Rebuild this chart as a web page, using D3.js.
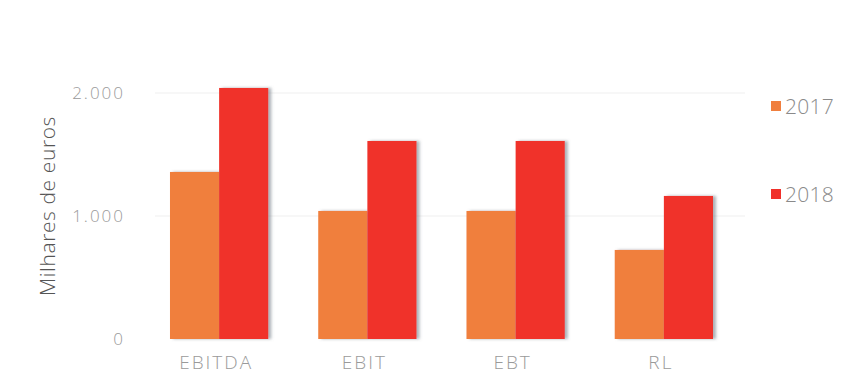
<!DOCTYPE html>
<html>
<head>
<meta charset="utf-8">
<script src="https://cdn.jsdelivr.net/npm/d3@7/dist/d3.min.js"></script>
<style>
  html, body { margin: 0; padding: 0; background: #ffffff; }
  svg { display: block; }
  text { font-family: "Open Sans", Lato, sans-serif; font-weight: 300; }
</style>
</head>
<body>
<svg id="chart" width="861" height="376"></svg>
<script>
const categories = ["EBITDA", "EBIT", "EBT", "RL"];
const seriesNames = ["2017", "2018"];
const values2017 = [1358, 1041, 1041, 724];
const values2018 = [2041, 1610, 1610, 1163];
const yTicks = [0, 1000, 2000];
const yTickLabels = ["0", "1.000", "2.000"];
const colors = ["#f07f3e", "#f0302a"];

const svg = d3.select("#chart");
const defs = svg.append("defs");
const f = defs.append("filter").attr("id", "shadow")
  .attr("x", "-10%").attr("y", "-5%").attr("width", "130%").attr("height", "110%");
f.append("feDropShadow").attr("dx", 3).attr("dy", 0).attr("stdDeviation", 1.6)
  .attr("flood-color", "#6a7580").attr("flood-opacity", 0.55);

const x = d3.scaleBand().domain(categories).range([145, 738])
  .paddingInner(0.337).paddingOuter(0.1685);
const xs = d3.scaleBand().domain(seriesNames).range([0, x.bandwidth()]);
const y = d3.scaleLinear().domain([0, 2000]).range([339, 93]);

// gridlines
svg.append("g").selectAll("line").data(yTicks.slice(1)).join("line")
  .attr("x1", 155).attr("x2", 745)
  .attr("y1", d => y(d)).attr("y2", d => y(d))
  .attr("stroke", "#efefef").attr("stroke-width", 1);

// y axis labels
const yAxis = d3.axisLeft(y).tickValues(yTicks)
  .tickFormat((d, i) => yTickLabels[i]).tickSize(0).tickPadding(0);
const gy = svg.append("g").attr("transform", "translate(125,0)").call(yAxis);
gy.select(".domain").remove();
gy.selectAll("text").attr("fill", "#9a9a9a").style("font-size", "17px")
  .style("font-family", "'Open Sans', sans-serif").style("font-weight", "300")
  .style("letter-spacing", "2px")
  .attr("dy", "0.35em");

// bars
const data = categories.map((c, i) => ({ c, vals: [values2017[i], values2018[i]] }));
const groups = svg.append("g").selectAll("g").data(data).join("g")
  .attr("transform", d => `translate(${x(d.c)},0)`)
  .attr("filter", "url(#shadow)");
groups.selectAll("rect").data(d => d.vals.map((v, j) => ({ s: seriesNames[j], v, j })))
  .join("rect")
  .attr("x", d => xs(d.s)).attr("width", xs.bandwidth())
  .attr("y", d => y(d.v)).attr("height", d => y(0) - y(d.v))
  .attr("fill", d => colors[d.j]);

// x axis labels
const xAxis = d3.axisBottom(x).tickSize(0).tickPadding(0);
const gx = svg.append("g").attr("transform", "translate(-3,0)").call(xAxis);
gx.select(".domain").remove();
gx.selectAll("text").attr("fill", "#9a9a9a").style("font-size", "19px")
  .style("font-family", "'Open Sans', sans-serif").style("font-weight", "300")
  .style("letter-spacing", "2px").attr("y", 369).attr("dy", null);

// y title
svg.append("text")
  .attr("transform", "translate(55,206) rotate(-90)")
  .attr("text-anchor", "middle")
  .attr("fill", "#555")
  .style("font-size", "21px")
  .style("letter-spacing", "0.6px")
  .text("Milhares de euros");

// legend
const legendY = [106, 194];
const lg = svg.append("g").selectAll("g").data(seriesNames).join("g")
  .attr("transform", (d, i) => `translate(771,${legendY[i]})`);
lg.append("rect").attr("x", 0).attr("y", -5).attr("width", 10).attr("height", 10)
  .attr("fill", (d, i) => colors[i]);
lg.append("text").attr("x", 14).attr("y", 0).attr("dy", "0.36em")
  .attr("fill", "#8a8a8a").style("font-size", "21px").style("letter-spacing", "0.3px").text(d => d);
</script>
</body>
</html>
